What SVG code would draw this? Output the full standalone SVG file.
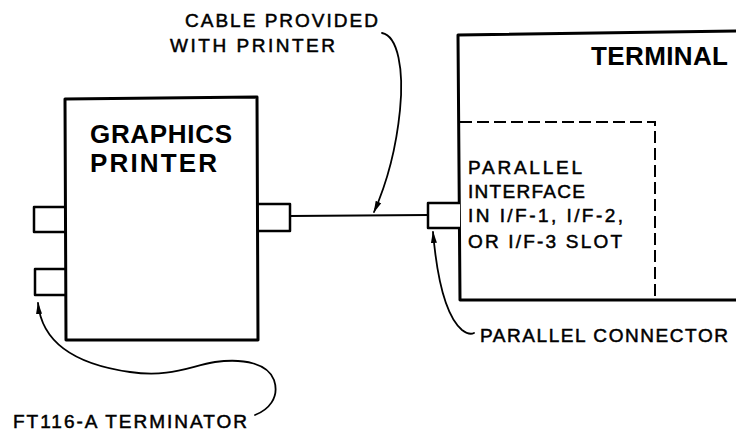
<svg xmlns="http://www.w3.org/2000/svg" width="736" height="433" viewBox="0 0 736 433">
<defs>
<style>
.box{fill:none;stroke:#000;stroke-width:3;stroke-linejoin:round}
.conn{fill:#fff;stroke:#000;stroke-width:2.5;stroke-linejoin:round}
.line{fill:none;stroke:#000;stroke-width:2.2}
.lead{fill:none;stroke:#000;stroke-width:1.8;stroke-linecap:round}
.dash{fill:none;stroke:#000;stroke-width:2;stroke-dasharray:12 5}
.h{font-family:"Liberation Sans",Arial,sans-serif;font-weight:bold;font-size:26px;fill:#000}
.t{font-family:"Liberation Sans",Arial,sans-serif;font-size:19px;fill:#000;stroke:#000;stroke-width:0.5}
</style>
<marker id="arr" markerWidth="12" markerHeight="8" refX="11" refY="4" orient="auto" markerUnits="userSpaceOnUse">
<path d="M0,1 L12,4 L0,7 Z" fill="#000"/>
</marker>
</defs>
<rect width="736" height="433" fill="#fff"/>

<g id="printer">
<path class="conn" d="M65,207 L34,207 L34,232 L65,232"/>
<path class="conn" d="M65,269 L35,269 L35,295 L65,295"/>
<path class="conn" d="M258,204 L290,204 L290,231 L258,231"/>
<path class="box" d="M65,99 L257,97 L258,340 L66,340 Z"/>
<text class="h" x="90" y="143" textLength="142" lengthAdjust="spacing">GRAPHICS</text>
<text class="h" x="90" y="172" textLength="127" lengthAdjust="spacing">PRINTER</text>
</g>

<g id="terminal">
<path class="box" d="M738,31 L458,35 L460,300 L738,300"/>
<text class="h" x="591" y="65" textLength="137" lengthAdjust="spacing">TERMINAL</text>
</g>

<g id="interface">
<path class="dash" d="M460,122 L655,122 L655,300"/>
<path class="conn" d="M460,203 L428,203 L428,228 L460,228"/>
<text class="t" x="468" y="174" textLength="114" lengthAdjust="spacing">PARALLEL</text>
<text class="t" x="468" y="198" textLength="117" lengthAdjust="spacing">INTERFACE</text>
<text class="t" x="468" y="222" textLength="155" lengthAdjust="spacing">IN I/F-1, I/F-2,</text>
<text class="t" x="468" y="248" textLength="154" lengthAdjust="spacing">OR I/F-3 SLOT</text>
</g>

<g id="connectors">
<path class="line" d="M290,216 L428,215"/>
<path class="lead" marker-end="url(#arr)" d="M382,33 C398,36 404,70 400,110 C396,150 386,185 374,212"/>
<path class="lead" marker-end="url(#arr)" d="M474,333 C470,335 466,333 462,330 C448,318 438,290 433,232"/>
<path class="lead" marker-end="url(#arr)" d="M255,415 C268,410 280,398 274,380 C268,364 245,358 215,362 C190,366 170,378 130,372 C80,365 42,345 38,303"/>
</g>

<g id="labels">
<text class="t" x="185" y="27" textLength="193" lengthAdjust="spacing">CABLE PROVIDED</text>
<text class="t" x="170" y="52" textLength="165" lengthAdjust="spacing">WITH PRINTER</text>
<text class="t" x="480" y="342" textLength="248" lengthAdjust="spacing">PARALLEL CONNECTOR</text>
<text class="t" x="13" y="428" textLength="234" lengthAdjust="spacing">FT116-A TERMINATOR</text>
</g>
</svg>
